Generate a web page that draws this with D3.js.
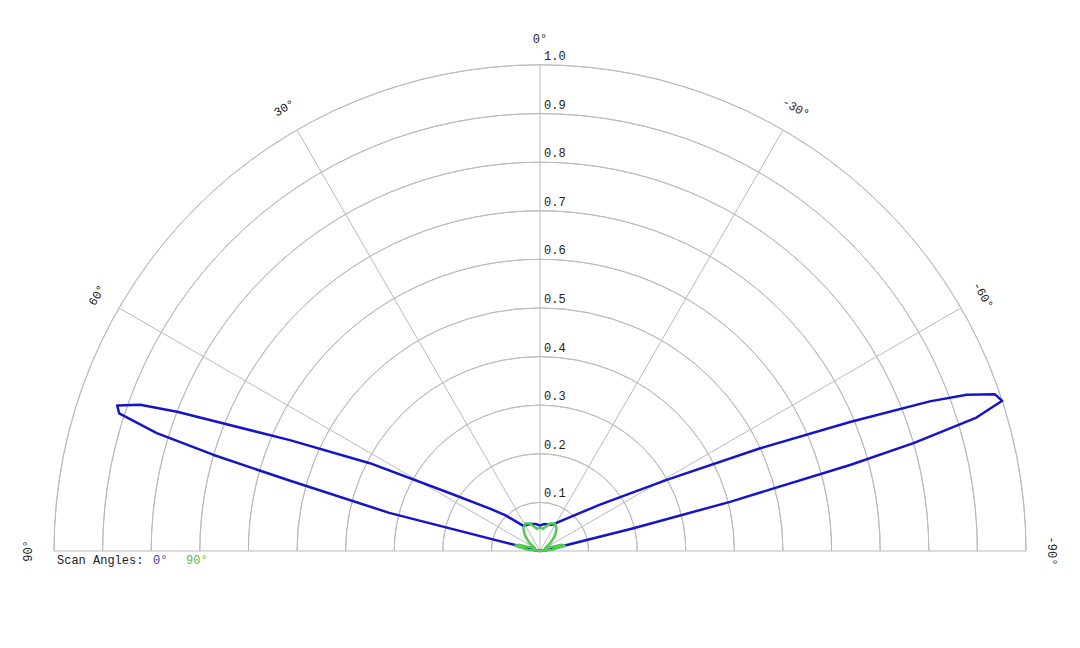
<!DOCTYPE html>
<html>
<head>
<meta charset="utf-8">
<script src="https://cdn.jsdelivr.net/npm/d3@7"></script>
<style>
  body { margin: 0; background: #fff; }
  text { font-family: "Liberation Mono", "DejaVu Sans Mono", monospace; font-size: 12px; fill: #222; }
</style>
</head>
<body>
<div id="chart"></div>
<script>
// data (angle in degrees, positive = left)
var ringValues = [0.1, 0.2, 0.3, 0.4, 0.5, 0.6, 0.7, 0.8, 0.9, 1.0];
var spokeAngles = [90, 60, 30, 0, -30, -60, -90];
var spokeLabels = ["90°", "60°", "30°", "0°", "-30°", "-60°", "-90°"];

var scanNames = ["0°", "90°"];

var blueAngles = [90, 82, 76.5, 75.8, 74.3, 73.6, 72.9, 71.9, 71.0, 69.9, 69.0, 66.1, 62.7, 57.3, 49.8, 44.2, 33.4, 20, 8, 0,
    -8, -24, -30, -36, -52.3, -60.7, -65.0, -67.4, -69.0, -69.9, -71.0, -72.0, -73.0, -73.9, -74.5, -75.5, -76.3, -77.9, -84, -90];
var blueValues = [0, 0.01, 0.05, 0.32, 0.534, 0.70, 0.825, 0.911, 0.92, 0.876, 0.80, 0.563, 0.394, 0.22, 0.135, 0.103, 0.062, 0.059, 0.056, 0.052,
    0.056, 0.059, 0.066, 0.078, 0.156, 0.299, 0.50, 0.691, 0.859, 0.935, 0.99, 1.0, 0.939, 0.80, 0.662, 0.404, 0.198, 0.042, 0.01, 0];

var greenAngles = [90, 84, 78, 74, 68, 60, 52, 44, 36, 28, 20, 14, 8, 0, -8, -14, -20, -28, -36, -44, -52, -60, -68, -74, -78, -84, -90];
var greenValues = [0, 0.025, 0.052, 0.046, 0.02, 0.012, 0.028, 0.045, 0.058, 0.064, 0.06, 0.052, 0.046, 0.048, 0.046, 0.052, 0.06, 0.064, 0.058, 0.045, 0.028, 0.012, 0.02, 0.046, 0.052, 0.025, 0];

var seriesColors = ["#1515c8", "#55c855"];
var legendColors = ["#3838a8", "#55bb55"];

var width = 1080, height = 648;
var cx = 540, cy = 551;

var svg = d3.select("#chart")
    .append("svg")
    .attr("width", width)
    .attr("height", height);

var r = d3.scaleLinear().domain([0, 1]).range([0, 486]);
// d3 radial angle runs clockwise from 12 o'clock, ours runs the other way
var a = d3.scaleLinear().domain([-90, 90]).range([Math.PI / 2, -Math.PI / 2]);

var g = svg.append("g").attr("transform", "translate(" + cx + "," + cy + ")");

//rings
var arc = d3.arc().startAngle(-Math.PI / 2).endAngle(Math.PI / 2);
g.selectAll(".ring")
    .data(ringValues)
    .enter()
    .append("path")
    .attr("d", function(d) { return arc({ innerRadius: r(d), outerRadius: r(d) }); })
    .attr("fill", "none")
    .attr("stroke", "#bbb")
    .attr("stroke-width", 1);

//spokes
g.selectAll(".spoke")
    .data(spokeAngles)
    .enter()
    .append("line")
    .attr("x1", 0).attr("y1", 0)
    .attr("x2", function(d) { return r(1) * Math.sin(a(d)); })
    .attr("y2", function(d) { return -r(1) * Math.cos(a(d)); })
    .attr("stroke", "#bbb")
    .attr("stroke-width", 1);

//ring labels
g.selectAll(".ringLabel")
    .data(ringValues)
    .enter()
    .append("text")
    .attr("x", 4)
    .attr("y", function(d) { return -r(d) - 5; })
    .text(function(d) { return d.toFixed(1); });

//angle labels
g.selectAll(".angleLabel")
    .data(spokeAngles)
    .enter()
    .append("text")
    .attr("text-anchor", "middle")
    .attr("dy", "0.35em")
    .attr("transform", function(d) {
        var x = 512 * Math.sin(a(d)), y = -512 * Math.cos(a(d));
        return "translate(" + x + "," + y + ") rotate(" + (-d) + ")";
    })
    .text(function(d, i) { return spokeLabels[i]; });

//the two scans
var line = d3.lineRadial()
    .angle(function(d) { return a(d[0]); })
    .radius(function(d) { return r(d[1]); });

var scans = [d3.zip(blueAngles, blueValues), d3.zip(greenAngles, greenValues)];

g.selectAll(".scan")
    .data(scans)
    .enter()
    .append("path")
    .attr("d", line)
    .attr("fill", "none")
    .attr("stroke", function(d, i) { return seriesColors[i]; })
    .attr("stroke-width", 2.5)
    .attr("stroke-linejoin", "round");

//legend
var legend = svg.append("text").attr("x", 57).attr("y", 564);
legend.append("tspan").text("Scan Angles:");
legend.append("tspan").attr("x", 153).style("fill", legendColors[0]).text(scanNames[0]);
legend.append("tspan").attr("x", 186).style("fill", legendColors[1]).text(scanNames[1]);
</script>
</body>
</html>
